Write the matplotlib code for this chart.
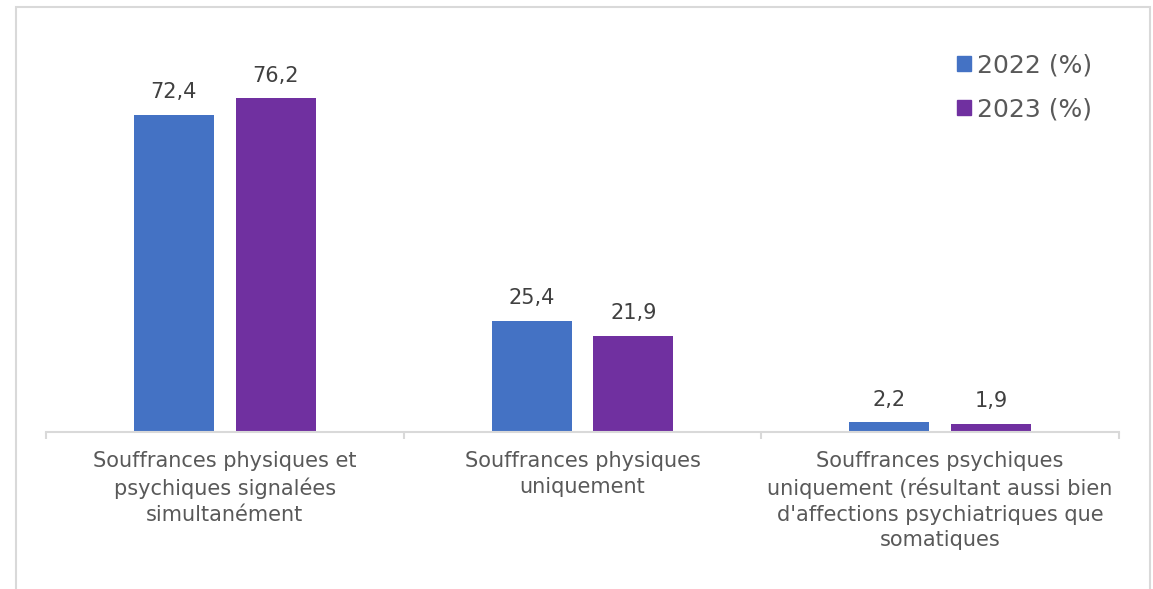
import numpy as np
import matplotlib
matplotlib.use("Agg")
from matplotlib import pyplot as plt
from matplotlib.patches import Patch, Rectangle

categories = ["Souffrances physiques et\npsychiques signalées\nsimultanément",
              "Souffrances physiques\nuniquement",
              "Souffrances psychiques\nuniquement (résultant aussi bien\nd'affections psychiatriques que\nsomatiques"]
series_names = ["2022 (%)", "2023 (%)"]
values_2022 = [72.4, 25.4, 2.2]
values_2023 = [76.2, 21.9, 1.9]

blue = '#4472C4'
purple = '#7030A0'
grey = '#D9D9D9'

plt.rcParams['font.family'] = ['DejaVu Sans']

fig = plt.figure(figsize=(11.53, 5.89), dpi=100)
ax = fig.add_axes([46/1153, 157/589, 1073/1153, 350.2/589])

x = np.arange(len(categories))
w = 80/358
off = 51/358
b1 = ax.bar(x-off, values_2022, w, color=blue)
b2 = ax.bar(x+off, values_2023, w, color=purple)

for bars, vals in ((b1, values_2022), (b2, values_2023)):
    for r, v in zip(bars, vals):
        ax.annotate(f"{v:.1f}".replace('.', ','),
                    (r.get_x()+r.get_width()/2, v),
                    xytext=(0, 12), textcoords='offset points',
                    ha='center', va='baseline', fontsize=15, color='#404040')

ax.set_xlim(-0.5, 2.5)
ax.set_ylim(0, 80)
ax.set_yticks([])
for s in ('top', 'right', 'left'):
    ax.spines[s].set_visible(False)
ax.spines['bottom'].set_color(grey)
ax.spines['bottom'].set_linewidth(1.5)

ax.set_xticks(x)
ax.set_xticklabels(categories, fontsize=15, color='#595959', linespacing=1.35)
ax.tick_params(axis='x', which='major', length=0, pad=14)
ax.set_xticks([-0.5, 0.5, 1.5, 2.5], minor=True)
ax.tick_params(axis='x', which='minor', length=5, width=1.5, color=grey)

handles = [Patch(color=blue), Patch(color=purple)]
ax.legend(handles, series_names, loc='upper left',
          bbox_to_anchor=(957/1153, 1-53/589), bbox_transform=fig.transFigure,
          frameon=False, fontsize=18, handlelength=0.56, handleheight=0.56,
          handletextpad=0.25, labelspacing=0.82, borderaxespad=0, borderpad=0,
          labelcolor='#595959')

# chart frame
fig.patches.append(Rectangle((16/1153, -0.05), (1150-16)/1153, 1.05-7/589,
                             transform=fig.transFigure, fill=False,
                             edgecolor=grey, linewidth=1.5))

fig.savefig('out.png', dpi=100)
